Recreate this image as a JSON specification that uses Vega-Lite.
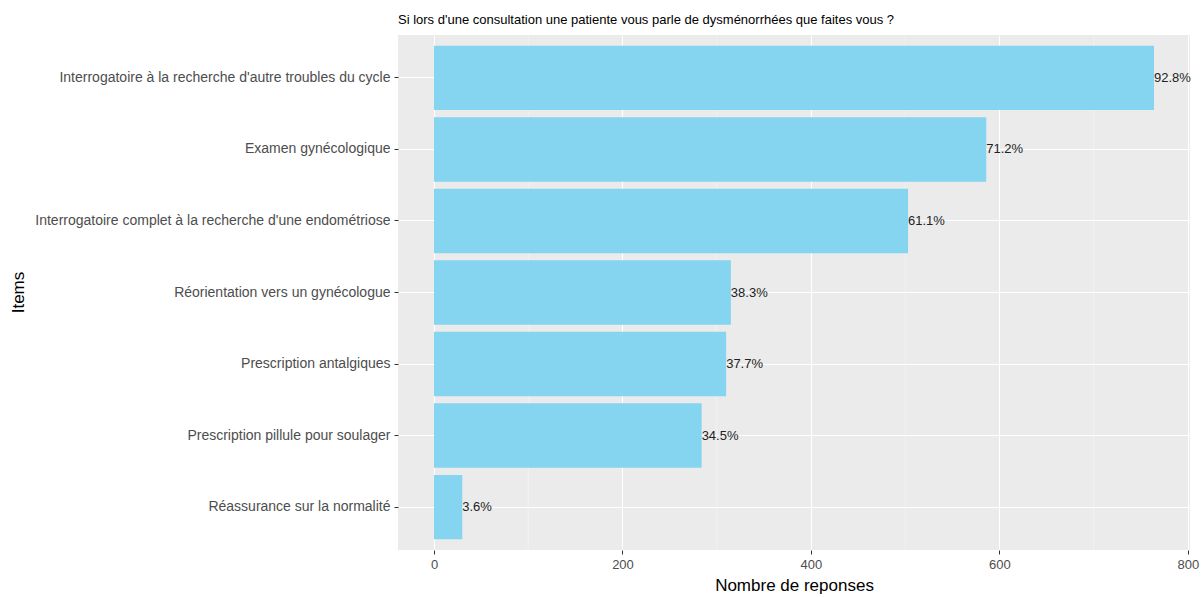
{
  "$schema": "https://vega.github.io/schema/vega-lite/v6.json",
  "autosize": "none",
  "width": 792,
  "height": 515,
  "padding": {"left": 398, "top": 35, "right": 13, "bottom": 47},
  "background": "white",
  "title": {
    "text": "Si lors d'une consultation une patiente vous parle de dysménorrhées que faites vous ?",
    "anchor": "start",
    "frame": "group",
    "font": "Liberation Sans",
    "fontSize": 13,
    "fontWeight": "normal",
    "color": "#000000",
    "offset": 8
  },
  "config": {
    "view": {"fill": "#EBEBEB", "stroke": null},
    "font": "Liberation Sans"
  },
  "data": {
    "values": [
      {"item": "Interrogatoire à la recherche d'autre troubles du cycle", "n": 764, "label": "92.8%"},
      {"item": "Examen gynécologique", "n": 586, "label": "71.2%"},
      {"item": "Interrogatoire complet à la recherche d'une endométriose", "n": 503, "label": "61.1%"},
      {"item": "Réorientation vers un gynécologue", "n": 315, "label": "38.3%"},
      {"item": "Prescription antalgiques", "n": 310, "label": "37.7%"},
      {"item": "Prescription pillule pour soulager", "n": 284, "label": "34.5%"},
      {"item": "Réassurance sur la normalité", "n": 30, "label": "3.6%"}
    ]
  },
  "layer": [
    {
      "data": {"values": [{"m": 100}, {"m": 300}, {"m": 500}, {"m": 700}]},
      "mark": {"type": "rule", "color": "#F7F7F7", "strokeWidth": 0.6},
      "encoding": {"x": {"field": "m", "type": "quantitative", "scale": {"domain": [-38.2, 802.2], "nice": false, "zero": false}}}
    },
    {
      "mark": {"type": "bar", "color": "#85D5F0"},
      "encoding": {
        "y": {
          "field": "item", "type": "nominal", "sort": {"field": "n", "order": "descending"},
          "scale": {"paddingInner": 0.1, "paddingOuter": 0.15},
          "axis": {
            "title": "Items", "titleFont": "Liberation Sans", "titleFontSize": 17, "titleFontWeight": "normal", "titleColor": "#000000",
            "titleX": -380, "titleY": 257, "titleAngle": -90, "titleAlign": "center", "titleBaseline": "middle",
            "labelFont": "Liberation Sans", "labelFontSize": 14, "labelColor": "#4D4D4D", "labelPadding": 4,
            "tickColor": "#333333", "tickSize": 4, "domain": false,
            "grid": true, "gridColor": "#FFFFFF", "gridWidth": 1.1, "bandPosition": 0.5, "labelLimit": 400
          }
        },
        "x": {
          "field": "n", "type": "quantitative",
          "scale": {"domain": [-38.2, 802.2], "nice": false, "zero": false},
          "axis": {
            "title": "Nombre de reponses", "titleFont": "Liberation Sans", "titleFontSize": 17, "titleFontWeight": "normal", "titleColor": "#000000",
            "titlePadding": 6,
            "values": [0, 200, 400, 600, 800],
            "labelFont": "Liberation Sans", "labelFontSize": 13, "labelColor": "#4D4D4D", "labelPadding": 4,
            "tickColor": "#333333", "tickSize": 4, "domain": false,
            "grid": true, "gridColor": "#FFFFFF", "gridWidth": 1.1
          }
        }
      }
    },
    {
      "mark": {"type": "text", "align": "left", "baseline": "middle", "fontSize": 13, "color": "#222222", "font": "Liberation Sans"},
      "encoding": {
        "y": {"field": "item", "type": "nominal", "sort": {"field": "n", "order": "descending"}},
        "x": {"field": "n", "type": "quantitative"},
        "text": {"field": "label"}
      }
    }
  ]
}
